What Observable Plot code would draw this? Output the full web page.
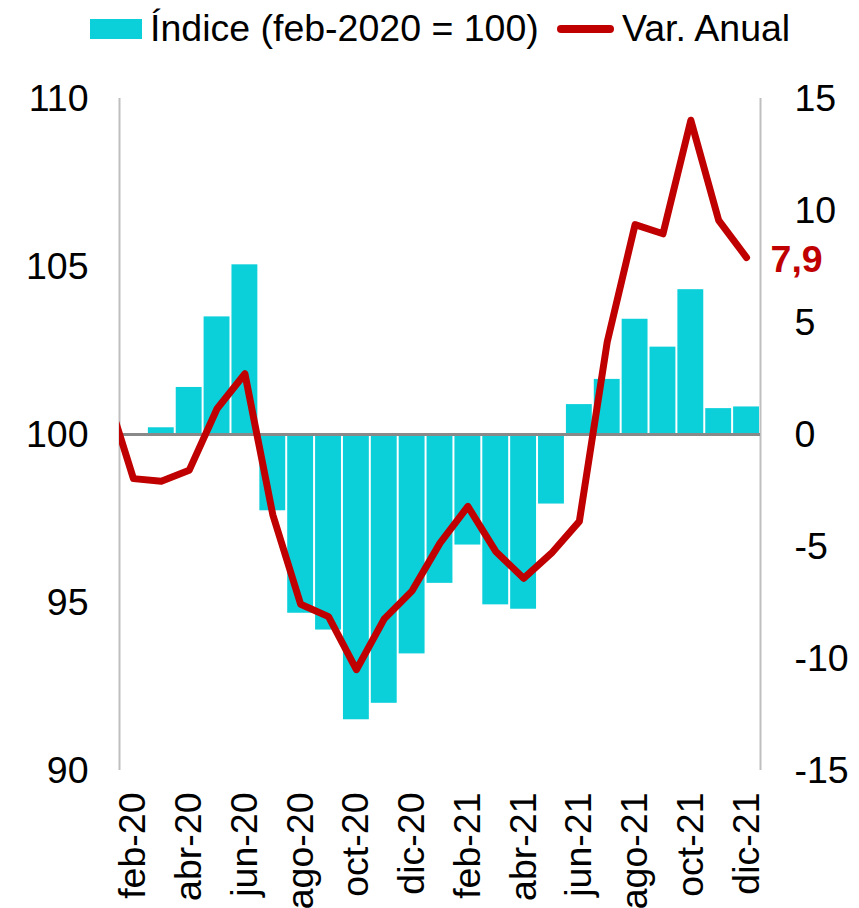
<!DOCTYPE html>
<html><head><meta charset="utf-8">
<script src="https://cdn.jsdelivr.net/npm/d3@7"></script>
<script src="https://cdn.jsdelivr.net/npm/@observablehq/plot@0.6"></script>
<style>
body{margin:0;background:#fff;font-family:"Liberation Sans",Arial,sans-serif;}
#wrap{position:relative;width:859px;height:908px;overflow:hidden;}
#legend{position:absolute;left:0;top:0;width:859px;height:60px;font-size:37.5px;line-height:37.5px;color:#000;}
#legend span{position:absolute;white-space:nowrap;}
</style></head><body>
<div id="wrap"><div id="chart"></div>
<div id="legend">
  <span style="left:90px;top:19px;width:52px;height:20px;background:#0bcfd9"></span>
  <span style="left:150px;top:10px;">Índice (feb-2020 = 100)</span>
  <span style="left:557px;top:25px;width:57px;height:8px;border-radius:4px;background:#c00000"></span>
  <span style="left:622px;top:10px;">Var. Anual</span>
</div>
</div>
<script>
const months = ["feb-20","mar-20","abr-20","may-20","jun-20","jul-20","ago-20","sep-20","oct-20","nov-20","dic-20",
  "ene-21","feb-21","mar-21","abr-21","may-21","jun-21","jul-21","ago-21","sep-21","oct-21","nov-21","dic-21"];
const indice = [100, 100.2, 101.4, 103.5, 105.05, 97.73, 94.68, 94.18, 91.51, 92.0, 93.47,
  95.57, 96.71, 94.93, 94.8, 97.93, 100.89, 101.64, 103.43, 102.6, 104.31, 100.77, 100.82];
// Var. anual: the series starts one month earlier (ene-20), clipped at the left edge
const varMonths = ["ene-20"].concat(months);
const varAnual = [2.0, -1.97, -2.09, -1.6, 1.15, 2.71, -3.58, -7.58, -8.13, -10.5, -8.23, -6.98,
  -4.85, -3.21, -5.22, -6.42, -5.3, -3.88, 4.13, 9.37, 8.96, 14.03, 9.56, 7.9];
const leftTicks = [90, 95, 100, 105, 110];
const rightTicks = [-15, -10, -5, 0, 5, 10, 15];
const xTickIdx = months.map((m, i) => i).filter(i => i % 2 === 0);

const leftDomain = [90, 110];
const rightDomain = [-15, 15];
const toLeft = v => leftDomain[0] + (v - rightDomain[0]) * (leftDomain[1] - leftDomain[0]) / (rightDomain[1] - rightDomain[0]);
const toRight = y => rightDomain[0] + (y - leftDomain[0]) * (rightDomain[1] - rightDomain[0]) / (leftDomain[1] - leftDomain[0]);

const barData = months.map((m, i) => ({m, i, v: indice[i]}));
const lineData = varMonths.map((m, k) => ({m, i: k - 1, v: varAnual[k]}));
const last = lineData[lineData.length - 1];
const FONT = '"Liberation Sans", Arial, sans-serif';
const FS = 37.5;

const chart = Plot.plot({
  width: 859, height: 908,
  marginTop: 98, marginBottom: 138, marginLeft: 119, marginRight: 99,
  style: {fontFamily: FONT, fontSize: FS + "px", color: "#000", background: "#fff", overflow: "visible"},
  x: {type: "linear", domain: [-0.5, months.length - 0.5]},
  y: {domain: leftDomain},
  marks: [
    Plot.rectY(barData, {x1: d => d.i - 0.5, x2: d => d.i + 0.5, y1: 100, y2: "v", fill: "#0bcfd9", insetLeft: 1, insetRight: 1}),
    Plot.ruleX([-0.5, months.length - 0.5], {y1: leftDomain[0], y2: leftDomain[1], stroke: "#bfbfbf", strokeWidth: 2}),
    Plot.ruleY([100], {stroke: "#898989", strokeWidth: 3}),
    Plot.line(lineData, {x: "i", y: d => toLeft(d.v), stroke: "#c00000", strokeWidth: 7, strokeLinejoin: "round", strokeLinecap: "round", clip: true}),
    Plot.text([last], {x: "i", y: d => toLeft(d.v), text: d => String(d.v).replace(".", ","), dx: 24, dy: 2, textAnchor: "start", fill: "#c00000", fontWeight: "bold", fontSize: FS}),
    Plot.axisY(leftTicks, {anchor: "left", label: null, tickSize: 0, tickPadding: 31, fontSize: FS, tickFormat: d => String(d)}),
    Plot.axisY(rightTicks.map(toLeft), {anchor: "right", label: null, tickSize: 0, tickPadding: 34, fontSize: FS, tickFormat: d => String(Math.round(toRight(d)))}),
    Plot.axisX(xTickIdx, {anchor: "bottom", label: null, tickSize: 0, tickPadding: 22, tickRotate: -90, fontSize: FS, tickFormat: i => months[i]})
  ]
});
document.getElementById("chart").appendChild(chart);
</script>
</body></html>
